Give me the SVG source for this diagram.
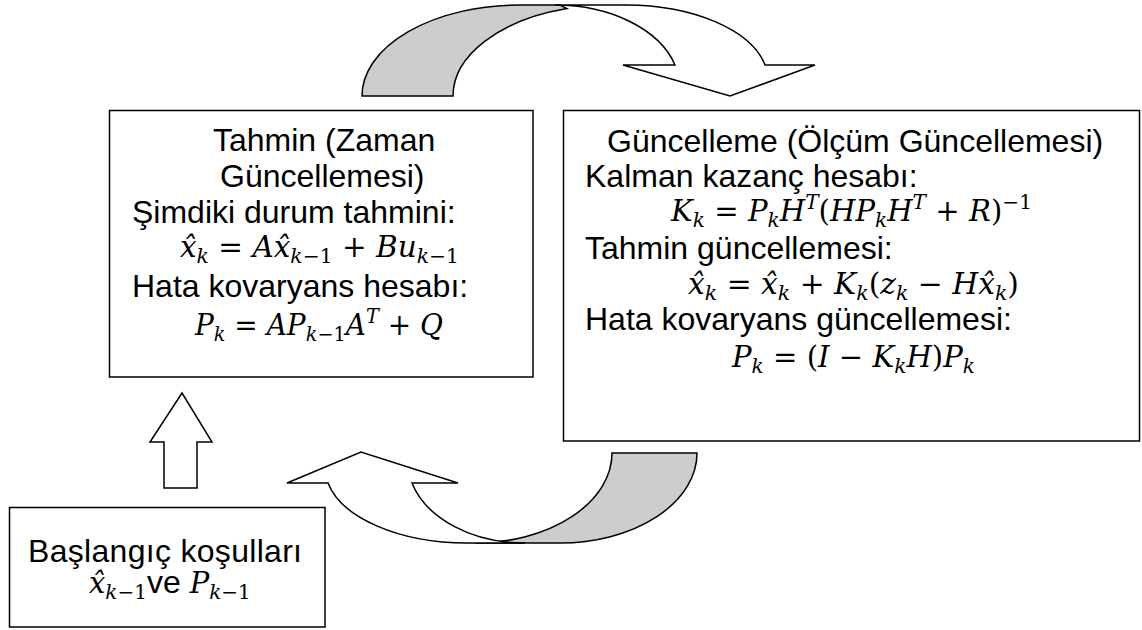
<svg xmlns="http://www.w3.org/2000/svg" width="1142" height="630" viewBox="0 0 1142 630">
<style>
.box{fill:#fff;stroke:#000;stroke-width:1.5}
.arr{fill:#fff;stroke:#000;stroke-width:1.5;stroke-linejoin:miter}
.back{fill:#cdcdcd;stroke:#000;stroke-width:1.5}
.t{font-family:"Liberation Sans",Arial,sans-serif;font-size:32px;fill:#000}
.m{font-family:"DejaVu Serif","Liberation Serif",serif;font-size:29px;fill:#000}
.i{font-style:italic}
.s{font-size:20px}
</style>
<rect width="1142" height="630" fill="#fff"/>
<g id="connectors">
  <path class="back" d="M362,96 A158,91 0 0 1 520,5 L560,5 L567,8.6 A158,91 0 0 0 453,96 Z"/>
  <path class="arr" d="M555,5 L626,5 A142,75 0 0 1 765,65 L815,65 L730,96 L623,65 L675,65 A124.6,82 0 0 0 555,5 Z"/>
  <path class="back" d="M612,453 L697,453 A137,90 0 0 1 560,543 L475,543 A137,90 0 0 0 612,453 Z"/>
  <path class="arr" d="M525,543 L467,543 A141.8,75 0 0 1 328,483 L287,483 L361,452 L458,483 L412,483 A117.3,82 0 0 0 525,543 Z"/>
  <polygon class="arr" points="182,393 212,442 197,442 197,488 164,488 164,442 150,442"/>
</g>
<g id="node-predict">
  <rect class="box" x="109.5" y="110.5" width="423.5" height="266.5"/>
  <text class="t" x="213" y="151">Tahmin (Zaman</text>
  <text class="t" x="220" y="187">Güncellemesi)</text>
  <text class="t" x="132" y="223">Şimdiki durum tahmini:</text>
  <text class="m" x="180" y="257" textLength="279" lengthAdjust="spacingAndGlyphs"><tspan class="i">x̂</tspan><tspan class="i s" dy="6">k</tspan><tspan dy="-6"> = </tspan><tspan class="i">Ax̂</tspan><tspan class="s" dy="6"><tspan class="i">k</tspan>−1</tspan><tspan dy="-6"> + </tspan><tspan class="i">Bu</tspan><tspan class="s" dy="6"><tspan class="i">k</tspan>−1</tspan></text>
  <text class="t" x="132" y="297">Hata kovaryans hesabı:</text>
  <text class="m" x="195" y="335" textLength="248" lengthAdjust="spacingAndGlyphs"><tspan class="i">P</tspan><tspan class="i s" dy="6">k</tspan><tspan dy="-6"> = </tspan><tspan class="i">AP</tspan><tspan class="s" dy="6"><tspan class="i">k</tspan>−1</tspan><tspan class="i" dy="-6">A</tspan><tspan class="i s" dy="-12">T</tspan><tspan dy="12"> + </tspan><tspan class="i">Q</tspan></text>
</g>
<g id="node-update">
  <rect class="box" x="563.5" y="110.5" width="576" height="330.5"/>
  <text class="t" x="607" y="152">Güncelleme (Ölçüm Güncellemesi)</text>
  <text class="t" x="585" y="187">Kalman kazanç hesabı:</text>
  <text class="m" x="671" y="221" textLength="361" lengthAdjust="spacingAndGlyphs"><tspan class="i">K</tspan><tspan class="i s" dy="6">k</tspan><tspan dy="-6"> = </tspan><tspan class="i">P</tspan><tspan class="i s" dy="6">k</tspan><tspan class="i" dy="-6">H</tspan><tspan class="i s" dy="-12">T</tspan><tspan dy="12">(</tspan><tspan class="i">HP</tspan><tspan class="i s" dy="6">k</tspan><tspan class="i" dy="-6">H</tspan><tspan class="i s" dy="-12">T</tspan><tspan dy="12"> + </tspan><tspan class="i">R</tspan><tspan>)</tspan><tspan class="s" dy="-12">−1</tspan></text>
  <text class="t" x="585" y="259">Tahmin güncellemesi:</text>
  <text class="m" x="688" y="294" textLength="331" lengthAdjust="spacingAndGlyphs"><tspan class="i">x̂</tspan><tspan class="i s" dy="6">k</tspan><tspan dy="-6"> = </tspan><tspan class="i">x̂</tspan><tspan class="i s" dy="6">k</tspan><tspan dy="-6"> + </tspan><tspan class="i">K</tspan><tspan class="i s" dy="6">k</tspan><tspan dy="-6">(</tspan><tspan class="i">z</tspan><tspan class="i s" dy="6">k</tspan><tspan dy="-6"> − </tspan><tspan class="i">Hx̂</tspan><tspan class="i s" dy="6">k</tspan><tspan dy="-6">)</tspan></text>
  <text class="t" x="585" y="330">Hata kovaryans güncellemesi:</text>
  <text class="m" x="732" y="367" textLength="243" lengthAdjust="spacingAndGlyphs"><tspan class="i">P</tspan><tspan class="i s" dy="6">k</tspan><tspan dy="-6"> = (</tspan><tspan class="i">I</tspan><tspan> − </tspan><tspan class="i">K</tspan><tspan class="i s" dy="6">k</tspan><tspan class="i" dy="-6">H</tspan><tspan>)</tspan><tspan class="i">P</tspan><tspan class="i s" dy="6">k</tspan></text>
</g>
<g id="node-init">
  <rect class="box" x="9.5" y="507.5" width="315.5" height="119.5"/>
  <text class="t" x="28" y="562" textLength="274">Başlangıç koşulları</text>
  <text x="89" y="593" class="m"><tspan class="i">x̂</tspan><tspan class="s" dy="6"><tspan class="i">k</tspan>−1</tspan><tspan class="t" dy="-6">ve </tspan><tspan class="i">P</tspan><tspan class="s" dy="6"><tspan class="i">k</tspan>−1</tspan></text>
</g>
</svg>
